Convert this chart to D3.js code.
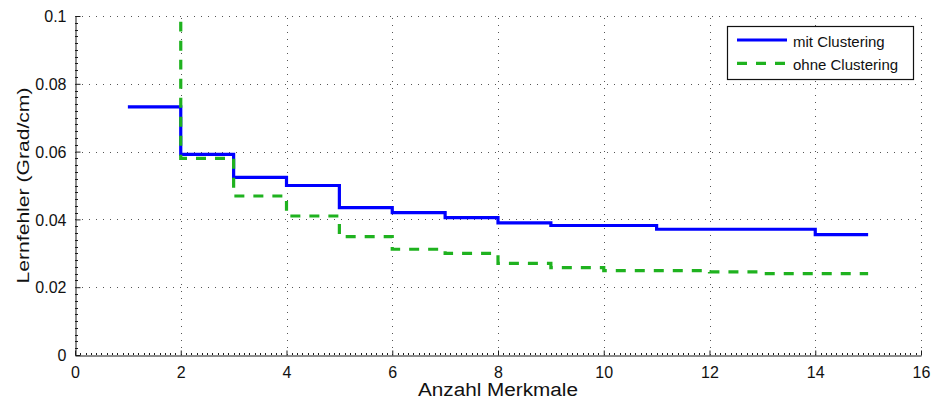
<!DOCTYPE html>
<html>
<head>
<meta charset="utf-8">
<script src="https://cdn.jsdelivr.net/npm/d3@7"></script>
<style>
  html, body { margin: 0; padding: 0; background: #fff; }
  svg { display: block; font-family: "Liberation Sans", Arial, Helvetica, sans-serif; }
</style>
</head>
<body>
<svg id="chart" width="933" height="400"></svg>
<script>
// ---- data ----
const features = [1, 2, 3, 4, 5, 6, 7, 8, 9, 10, 11, 12, 13, 14, 15];
const mitClustering = [0.0732, 0.0592, 0.0524, 0.0500, 0.0435, 0.0420, 0.0405, 0.0390, 0.0382, 0.0382, 0.0371, 0.0371, 0.0371, 0.0355, 0.0355];
const ohneClustering = [0.1500, 0.0580, 0.0469, 0.0410, 0.0349, 0.0312, 0.0300, 0.0270, 0.0258, 0.0249, 0.0249, 0.0245, 0.0240, 0.0240, 0.0240];
const seriesNames = ["mit Clustering", "ohne Clustering"];
const xTicks = [0, 2, 4, 6, 8, 10, 12, 14, 16];
const yTicks = [0, 0.02, 0.04, 0.06, 0.08, 0.1];
const xLabel = "Anzahl Merkmale";
const yLabel = "Lernfehler (Grad/cm)";

// ---- layout ----
const svg = d3.select("#chart");
const L = 75, R = 921, T = 16, B = 355;
const x = d3.scaleLinear().domain([0, 16]).range([L, R]);
const y = d3.scaleLinear().domain([0, 0.1]).range([B, T]);
const axisColor = "#1a1a1a";

svg.append("defs").append("clipPath").attr("id", "plotclip")
  .append("rect").attr("x", L).attr("y", T).attr("width", R - L).attr("height", B - T);

// grid
const grid = svg.append("g").attr("stroke", "#555").attr("stroke-width", 1)
  .attr("stroke-dasharray", "1,6").attr("shape-rendering", "crispEdges");
grid.selectAll(".gx").data(xTicks.filter(d => d > 0)).join("line")
  .attr("x1", d => Math.round(x(d)) + 0.5).attr("x2", d => Math.round(x(d)) + 0.5)
  .attr("y1", B).attr("y2", T);
grid.selectAll(".gy").data(yTicks.filter(d => d > 0)).join("line")
  .attr("y1", d => Math.round(y(d)) + 0.5).attr("y2", d => Math.round(y(d)) + 0.5)
  .attr("x1", L).attr("x2", R);

// minor ticks
const xMinor = d3.range(0, 160).map(i => i / 10).filter(v => Math.abs(v % 2) > 1e-9);
const yMinor = d3.range(0, 50).map(i => i * 0.002).filter((v, i) => i % 10 !== 0);
const ticksG = svg.append("g").attr("stroke", axisColor).attr("stroke-width", 1).attr("shape-rendering", "crispEdges");
ticksG.selectAll(".mx").data(xMinor).join("line")
  .attr("x1", d => Math.round(x(d)) + 0.5).attr("x2", d => Math.round(x(d)) + 0.5)
  .attr("y1", B).attr("y2", B - 2.5);
ticksG.selectAll(".my").data(yMinor).join("line")
  .attr("y1", d => Math.round(y(d)) + 0.5).attr("y2", d => Math.round(y(d)) + 0.5)
  .attr("x1", L).attr("x2", L + 2.5);

// axes (inward ticks)
const xAxis = d3.axisBottom(x).tickValues(xTicks).tickSizeInner(-5).tickSizeOuter(0).tickPadding(9)
  .tickFormat(d3.format("d"));
const yAxis = d3.axisLeft(y).tickValues(yTicks).tickSizeInner(-5).tickSizeOuter(0).tickPadding(9)
  .tickFormat(d => d === 0 ? "0" : String(+d.toFixed(2)));

const gx = svg.append("g").attr("transform", `translate(0,${B + 0.5})`).call(xAxis);
const gy = svg.append("g").attr("transform", `translate(${L + 0.5},0)`).call(yAxis);
[gx, gy].forEach(g => {
  g.select(".domain").attr("stroke", axisColor);
  g.selectAll(".tick line").attr("stroke", axisColor);
  g.selectAll(".tick text").attr("fill", "#111").style("font-size", "16px")
    .style("font-family", '"Liberation Sans", Arial, sans-serif');
});
gx.selectAll(".tick text").attr("dy", "0.85em");
gy.selectAll(".tick text").attr("dy", "0.36em");

// lines
const line = d3.line().x((d, i) => x(features[i])).y(d => y(d)).curve(d3.curveStepAfter);
const plot = svg.append("g").attr("clip-path", "url(#plotclip)");
plot.append("path").datum(mitClustering).attr("d", line)
  .attr("fill", "none").attr("stroke", "#0000ff").attr("stroke-width", 3.2);
plot.append("path").datum(ohneClustering).attr("d", line)
  .attr("fill", "none").attr("stroke", "#1fb21f").attr("stroke-width", 3.2)
  .attr("stroke-dasharray", "10,9");

// axis titles
svg.append("text").attr("x", (L + R) / 2).attr("y", 396).attr("text-anchor", "middle")
  .style("font-size", "18px").attr("fill", "#111")
  .attr("textLength", 160).attr("lengthAdjust", "spacingAndGlyphs").text(xLabel);
svg.append("text").attr("transform", `translate(29,${(T + B) / 2}) rotate(-90)`)
  .attr("text-anchor", "middle").style("font-size", "16px").attr("fill", "#111")
  .attr("textLength", 196).attr("lengthAdjust", "spacingAndGlyphs").text(yLabel);

// legend
const lg = svg.append("g");
lg.append("rect").attr("x", 727.5).attr("y", 26.5).attr("width", 186).attr("height", 53)
  .attr("fill", "#fff").attr("stroke", "#111").attr("stroke-width", 1.2);
const legendStyles = [
  { color: "#0000ff", dash: null },
  { color: "#1fb21f", dash: "10,9" }
];
seriesNames.forEach((name, i) => {
  const yy = 40 + i * 23.3;
  lg.append("line").attr("x1", 737).attr("x2", 787).attr("y1", yy).attr("y2", yy)
    .attr("stroke", legendStyles[i].color).attr("stroke-width", 3.2)
    .attr("stroke-dasharray", legendStyles[i].dash);
  lg.append("text").attr("x", 793).attr("y", yy + 6.5).style("font-size", "15px")
    .attr("fill", "#111").text(name);
});
</script>
</body>
</html>
